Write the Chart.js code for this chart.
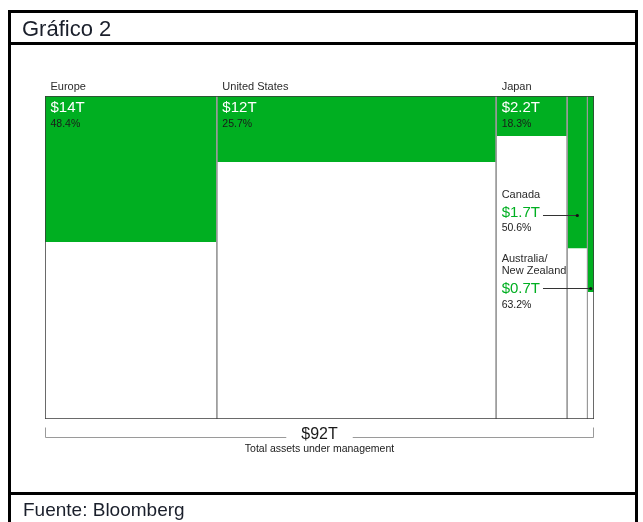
<!DOCTYPE html>
<html>
<head>
<meta charset="utf-8">
<script src="https://cdn.jsdelivr.net/npm/chart.js@4.4.1/dist/chart.umd.min.js"></script>
<style>
  body { margin: 0; background: #fff; font-family: Arial, "Liberation Sans", sans-serif; }
  #wrap { position: relative; width: 643px; height: 522px; overflow: hidden; }
  #chart { position: absolute; left: 0; top: 0; }
  .frame { position: absolute; left: 8px; top: 10px; width: 624px; height: 600px; border: 3px solid #000; }
  .rule { position: absolute; left: 8px; width: 630px; height: 3px; background: #000; }
  .title { position: absolute; left: 22px; top: 18px; font-size: 22px; line-height: 22px; color: #1a1f2b; white-space: nowrap; }
  .source { position: absolute; left: 23px; top: 500px; font-size: 19px; line-height: 19px; color: #1a1f2b; white-space: nowrap; }
</style>
</head>
<body>
<div id="wrap">
  <canvas id="chart" width="643" height="522"></canvas>
  <div class="frame"></div>
  <div class="rule" style="top:42px"></div>
  <div class="rule" style="top:492px"></div>
  <div class="title">Gráfico 2</div>
  <div class="source">Fuente: Bloomberg</div>
</div>
<script>
// regions, total AUM ($T, column width), ESG assets and share
const regions = ['Europe', 'United States', 'Japan', 'Canada', 'Australia/\nNew Zealand'];
const totalAum = [28.8, 46.8, 11.9, 3.4, 1.1];
const esgAum = ['$14T', '$12T', '$2.2T', '$1.7T', '$0.7T'];
const esgShare = ['48.4%', '25.7%', '18.3%', '50.6%', '63.2%'];
// green depth as drawn in the picture (% of column height)
const greenDepth = [45.2, 20.4, 12.4, 47.1, 60.7];
const totalLabel = '$92T';
const totalCaption = 'Total assets under management';

const GREEN = '#00af21';
const FONT = 'Arial, "Liberation Sans", sans-serif';

const edges = [0];
totalAum.forEach(v => edges.push(edges[edges.length - 1] + v));
const xMax = edges[edges.length - 1];

const datasets = [];

// outer frame of the plot
datasets.push({
    data: [{x: 0, y: 0}, {x: 0, y: 100}, {x: xMax, y: 100}, {x: xMax, y: 0}, {x: 0, y: 0}],
    borderColor: '#3a3a3a',
    borderWidth: 1.5,
    pointRadius: 0,
    fill: false,
    order: 1
});

// column dividers
const dividers = [];
edges.slice(1, -1).forEach(e => {
    dividers.push({x: e, y: 0}, {x: e, y: 100}, {x: e, y: null});
});
datasets.push({
    data: dividers,
    borderColor: '#9a9a9a',
    borderWidth: 1,
    pointRadius: 0,
    spanGaps: false,
    fill: false,
    order: 2
});

// green share of each column
regions.forEach((r, i) => {
    datasets.push({
        label: r,
        data: [{x: edges[i], y: 0}, {x: edges[i + 1], y: 0}],
        borderWidth: 0,
        borderColor: 'rgba(0,0,0,0)',
        backgroundColor: GREEN,
        pointRadius: 0,
        fill: {value: greenDepth[i]},
        order: 10 + i
    });
});

const labelPlugin = {
    id: 'labels',
    afterDatasetsDraw(chart) {
        const {ctx, chartArea, scales: {x, y}} = chart;
        ctx.save();
        ctx.textBaseline = 'alphabetic';
        ctx.textAlign = 'left';

        // top labels for the three wide columns
        for (let i = 0; i < 3; i++) {
            const px = x.getPixelForValue(edges[i]) + 5.5;
            ctx.fillStyle = '#2b2b2b';
            ctx.font = '11px ' + FONT;
            ctx.fillText(regions[i], px, chartArea.top - 6);
            ctx.fillStyle = '#ffffff';
            ctx.font = '15px ' + FONT;
            ctx.fillText(esgAum[i], px, chartArea.top + 16);
            ctx.fillStyle = '#1a1a1a';
            ctx.font = '10.5px ' + FONT;
            ctx.fillText(esgShare[i], px, chartArea.top + 30.5);
        }

        // narrow columns labelled inside the Japan column with leaders
        const lx = x.getPixelForValue(edges[2]) + 5.5;
        const callouts = [
            {i: 3, dotY: 36.8, nameDy: [-16.5], valDy: 2.5, pctDy: 16.5},
            {i: 4, dotY: 59.4, nameDy: [-26, -14], valDy: 5.5, pctDy: 20.5}
        ];
        callouts.forEach(c => {
            const dy = y.getPixelForValue(c.dotY);
            const dx = x.getPixelForValue((edges[c.i] + edges[c.i + 1]) / 2);
            const names = regions[c.i].split('\n');
            ctx.fillStyle = '#2b2b2b';
            ctx.font = '11px ' + FONT;
            names.forEach((n, k) => ctx.fillText(n, lx, dy + c.nameDy[k]));
            ctx.fillStyle = GREEN;
            ctx.font = '15px ' + FONT;
            ctx.fillText(esgAum[c.i], lx, dy + c.valDy);
            const w = ctx.measureText(esgAum[c.i]).width;
            ctx.fillStyle = '#1a1a1a';
            ctx.font = '10.5px ' + FONT;
            ctx.fillText(esgShare[c.i], lx, dy + c.pctDy);

            ctx.strokeStyle = '#333';
            ctx.lineWidth = 1;
            ctx.beginPath();
            ctx.moveTo(lx + w + 3, Math.round(dy) + 0.5);
            ctx.lineTo(dx, Math.round(dy) + 0.5);
            ctx.stroke();
            ctx.fillStyle = '#111';
            ctx.beginPath();
            ctx.arc(dx, Math.round(dy) + 0.5, 1.6, 0, Math.PI * 2);
            ctx.fill();
        });

        // total bracket
        const bx0 = x.getPixelForValue(0);
        const bx1 = x.getPixelForValue(xMax);
        const by = chartArea.bottom + 18.5;
        const mid = (bx0 + bx1) / 2;
        ctx.font = '16px ' + FONT;
        const tw = ctx.measureText(totalLabel).width;
        ctx.strokeStyle = '#9a9a9a';
        ctx.lineWidth = 1;
        ctx.beginPath();
        ctx.moveTo(bx0 + 0.5, by - 10);
        ctx.lineTo(bx0 + 0.5, by);
        ctx.lineTo(mid - tw / 2 - 15, by);
        ctx.moveTo(mid + tw / 2 + 15, by);
        ctx.lineTo(bx1 - 0.5, by);
        ctx.lineTo(bx1 - 0.5, by - 10);
        ctx.stroke();
        ctx.textAlign = 'center';
        ctx.fillStyle = '#1a1a1a';
        ctx.fillText(totalLabel, mid, by + 1);
        ctx.font = '10.5px ' + FONT;
        ctx.fillText(totalCaption, mid, by + 14.5);
        ctx.restore();
    }
};

const config = {
    type: 'line',
    data: {datasets: datasets},
    options: {
        responsive: false,
        animation: false,
        layout: {
            padding: {left: 45, top: 96, right: 49, bottom: 103}
        },
        plugins: {
            legend: {display: false},
            tooltip: {enabled: false}
        },
        scales: {
            x: {type: 'linear', min: 0, max: xMax, display: false},
            y: {type: 'linear', min: 0, max: 100, reverse: true, display: false}
        }
    },
    plugins: [labelPlugin]
};

const myChart = new Chart(document.getElementById('chart'), config);
</script>
</body>
</html>
